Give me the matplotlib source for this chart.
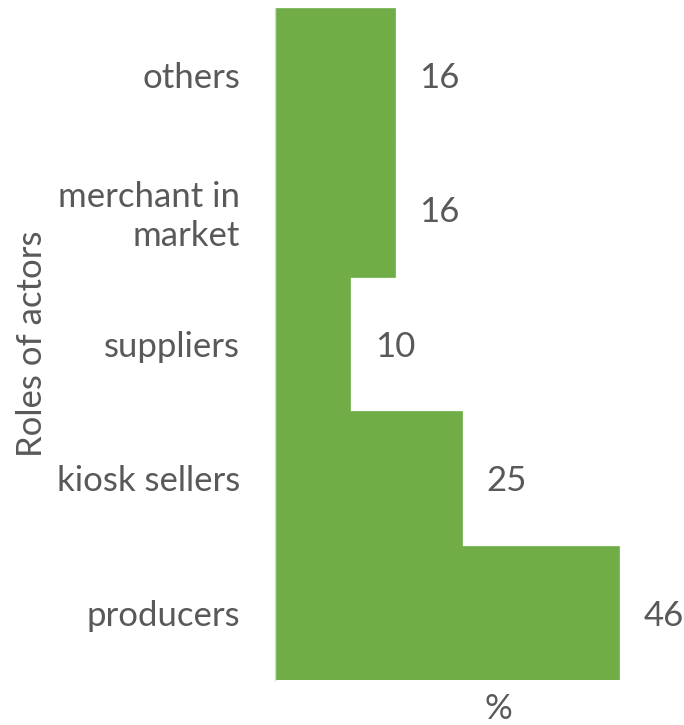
import matplotlib
matplotlib.use("Agg")
import matplotlib.pyplot as plt

roles = ["producers", "kiosk sellers", "suppliers", "merchant in\nmarket", "others"]
percent = [46, 25, 10, 16, 16]

plt.rcParams['font.family'] = ['Lato', 'DejaVu Sans']
grey = '#595959'
fs = 25

fig = plt.figure(figsize=(6.84, 7.25), dpi=100)
ax = fig.add_axes([275 / 684, 45 / 725, 373.5 / 684, 672 / 725])

ax.barh(range(len(roles)), percent, height=1.0, color='#70AD47', edgecolor='#70AD47', linewidth=0.5)
ax.set_xlim(0, 50)
ax.set_ylim(-0.5, len(roles) - 0.5)

for i, v in enumerate(percent):
    ax.annotate(str(v), (v, i), xytext=(18, -2), textcoords='offset points',
                ha='left', va='center', fontsize=fs, color=grey)

ax.set_yticks(range(len(roles)))
ax.set_yticklabels(roles, fontsize=fs, color=grey, linespacing=1.3)
ax.tick_params(axis='y', length=0, pad=25)
ax.set_xticks([])

for s in ['top', 'right', 'bottom']:
    ax.spines[s].set_visible(False)
ax.spines['left'].set_color('#D9D9D9')
ax.spines['left'].set_linewidth(1.0)

ax.set_xlabel('%', fontsize=fs, color=grey)
ax.xaxis.set_label_coords((498 - 275) / 373.5, -13 / 672)
ax.set_ylabel('Roles of actors', fontsize=fs, color=grey)
ax.yaxis.set_label_coords(-(275 - 48) / 373.5, 0.5)

fig.savefig('out.png', dpi=100)
